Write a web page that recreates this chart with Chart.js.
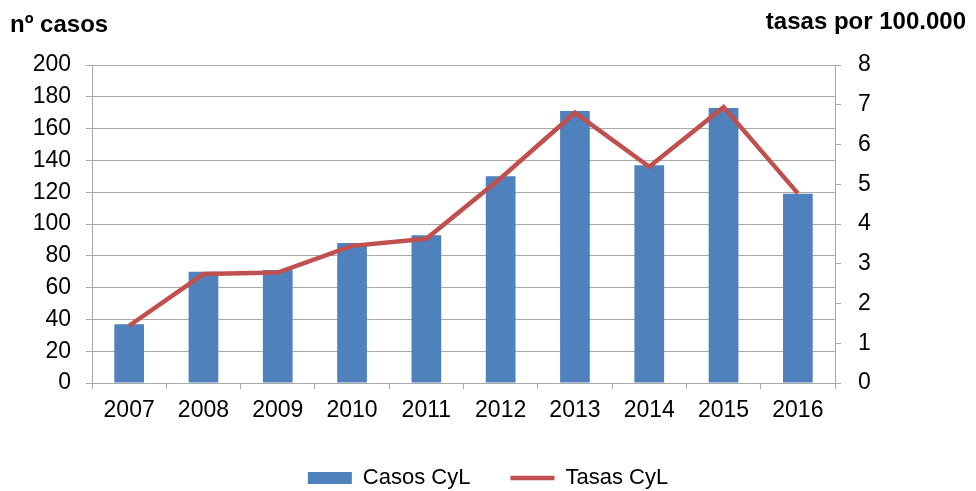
<!DOCTYPE html>
<html>
<head>
    <title>Casos y tasas CyL</title>
    <meta charset="utf-8" />
    <script src="https://cdn.jsdelivr.net/npm/chart.js@4"></script>
    <style>
        body { margin: 0; background: #fff; }
    </style>
</head>
<body>
    <canvas id="chart" width="976" height="491"></canvas>

    <script>
        // Data
        const years = ['2007', '2008', '2009', '2010', '2011', '2012', '2013', '2014', '2015', '2016'];
        const casos = [37, 70, 71, 88, 93, 130, 171, 137, 173, 119];
        const tasas = [1.44, 2.74, 2.78, 3.45, 3.63, 5.15, 6.80, 5.44, 6.94, 4.77];
        const leftTitle = 'nº casos';
        const rightTitle = 'tasas por 100.000';

        const blue = '#4F81BD';
        const red = '#C0504D';
        const gridColor = '#A8A8A8';
        const fontFamily = '"Liberation Sans", Arial, sans-serif';

        // Axis titles sit horizontally above each axis, so draw them by hand
        const axisTitles = {
            id: 'axisTitles',
            afterDraw(chart) {
                const ctx = chart.ctx;
                ctx.save();
                ctx.fillStyle = '#000';
                ctx.font = 'bold 24px ' + fontFamily;
                ctx.textBaseline = 'alphabetic';
                ctx.textAlign = 'left';
                ctx.fillText(leftTitle, 10, 32);
                ctx.textAlign = 'right';
                ctx.fillText(rightTitle, 966, 29);
                ctx.restore();
            }
        };

        new Chart(document.getElementById('chart'), {
            data: {
                labels: years,
                datasets: [
                    {
                        type: 'bar',
                        label: 'Casos CyL',
                        data: casos,
                        backgroundColor: blue,
                        yAxisID: 'y',
                        categoryPercentage: 1,
                        barPercentage: 0.4,
                        order: 1
                    },
                    {
                        type: 'line',
                        label: 'Tasas CyL',
                        data: tasas,
                        borderColor: red,
                        backgroundColor: red,
                        borderWidth: 4.5,
                        pointRadius: 0,
                        tension: 0,
                        yAxisID: 'y1',
                        order: 0
                    }
                ]
            },
            options: {
                responsive: false,
                animation: false,
                layout: { padding: { top: 65, left: 0, right: 0, bottom: -8 } },
                plugins: {
                    tooltip: { enabled: false },
                    legend: {
                        position: 'bottom',
                        labels: {
                            color: '#000',
                            font: { family: fontFamily, size: 22 },
                            usePointStyle: true,
                            pointStyleWidth: 44,
                            boxHeight: 12,
                            padding: 40,
                            generateLabels: () => [
                                { text: 'Casos CyL', fillStyle: blue, strokeStyle: blue, lineWidth: 0, pointStyle: 'rect', datasetIndex: 0 },
                                { text: 'Tasas CyL', fillStyle: red, strokeStyle: red, lineWidth: 4.5, pointStyle: 'line', datasetIndex: 1 }
                            ]
                        }
                    }
                },
                scales: {
                    x: {
                        afterFit: s => { s.height = 44; },
                        grid: { display: true, drawOnChartArea: false, offset: true, tickLength: 6, color: gridColor },
                        border: { color: gridColor },
                        ticks: { color: '#000', font: { family: fontFamily, size: 23 }, padding: 8, maxRotation: 0 }
                    },
                    y: {
                        position: 'left',
                        min: 0,
                        max: 200,
                        afterFit: s => { s.width = 92; },
                        grid: { color: gridColor, tickLength: 6 },
                        border: { color: gridColor },
                        ticks: { stepSize: 20, color: '#000', font: { family: fontFamily, size: 23 }, padding: 15 }
                    },
                    y1: {
                        position: 'right',
                        min: 0,
                        max: 8,
                        afterFit: s => { s.width = 141; },
                        grid: { drawOnChartArea: false, color: gridColor, tickLength: 6 },
                        border: { color: gridColor },
                        ticks: { stepSize: 1, color: '#000', font: { family: fontFamily, size: 23 }, padding: 17 }
                    }
                }
            },
            plugins: [axisTitles]
        });
    </script>
</body>
</html>
